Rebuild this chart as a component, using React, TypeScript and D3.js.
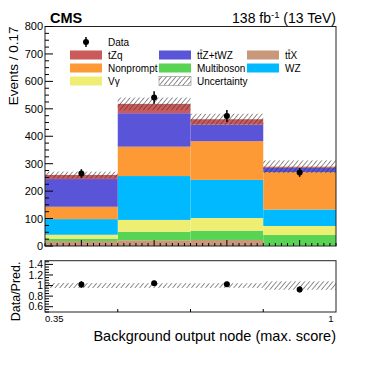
// App.tsx
import * as d3 from 'd3';
import React, { useRef, useEffect } from 'react';

// bin edges of the background output node
const edges = [0.35, 0.5125, 0.675, 0.8375, 1];

// stacked predictions, bottom to top
const ttX = [18, 21, 22, 1];
const multiboson = [9, 31, 34, 39];
const vgamma = [14, 43, 46, 33];
const wz = [57, 160, 139, 60];
const nonprompt = [45, 107, 141, 136];
const ttZ = [101, 122, 60, 16];
const tZq = [15, 34, 20, 4];

const dataVals = [264, 541, 474, 268];
const dataErr = [16, 23, 22, 16];
const uncert = [12, 23, 20, 23];

const yTicks = [0, 100, 200, 300, 400, 500, 600, 700, 800];
const ratioTicks = [0.6, 0.8, 1, 1.2, 1.4];

const procs = [
  { key: 'ttX', label: 'ttX', vals: ttX, color: '#c9977a' },
  { key: 'multiboson', label: 'Multiboson', vals: multiboson, color: '#58d354' },
  { key: 'vgamma', label: 'Vγ', vals: vgamma, color: '#eeee72' },
  { key: 'wz', label: 'WZ', vals: wz, color: '#00b9ff' },
  { key: 'nonprompt', label: 'Nonprompt', vals: nonprompt, color: '#fd9a36' },
  { key: 'ttZ', label: 'ttZ+tWZ', vals: ttZ, color: '#5a54d8' },
  { key: 'tZq', label: 'tZq', vals: tZq, color: '#cb5a5a' },
];

const FONT = '"Liberation Sans", Arial, Helvetica, sans-serif';

function App() {
  const ref = useRef(null);

  useEffect(() => {
    const svg = d3.select(ref.current);
    svg.selectAll('*').remove();

    const left = 45, right = 336;
    const x = d3.scaleLinear().domain([0.35, 1]).range([left, right]);
    const y = d3.scaleLinear().domain([0, 800]).range([246, 26.5]);
    const r = d3.scaleLinear().domain([0.5, 1.47]).range([312, 260.7]);

    const defs = svg.append('defs');
    const pat = defs.append('pattern')
      .attr('id', 'hatch')
      .attr('patternUnits', 'userSpaceOnUse')
      .attr('width', 3.6).attr('height', 3.6)
      .attr('patternTransform', 'rotate(40)');
    pat.append('line')
      .attr('x1', 0).attr('y1', 0).attr('x2', 0).attr('y2', 3.6)
      .attr('stroke', '#333').attr('stroke-width', 1.1);

    const bins = d3.range(dataVals.length).map(i => {
      const row: any = { i, lo: edges[i], hi: edges[i + 1] };
      procs.forEach(p => { row[p.key] = p.vals[i]; });
      return row;
    });
    const totals = bins.map(b => d3.sum(procs, p => b[p.key]));

    // stacked histogram
    const stack = d3.stack().keys(procs.map(p => p.key))(bins);
    svg.append('g')
      .selectAll('g')
      .data(stack)
      .enter().append('g')
      .attr('fill', (d, k) => procs[k].color)
      .selectAll('rect')
      .data(d => d)
      .enter().append('rect')
      .attr('x', d => x(d.data.lo))
      .attr('width', d => x(d.data.hi) - x(d.data.lo))
      .attr('y', d => y(d[1]))
      .attr('height', d => y(d[0]) - y(d[1]));

    // uncertainty band
    svg.append('g').selectAll('rect')
      .data(bins)
      .enter().append('rect')
      .attr('x', d => x(d.lo))
      .attr('width', d => x(d.hi) - x(d.lo))
      .attr('y', d => y(totals[d.i] + uncert[d.i]))
      .attr('height', d => y(totals[d.i] - uncert[d.i]) - y(totals[d.i] + uncert[d.i]))
      .attr('fill', 'url(#hatch)');

    // data points
    const pts = svg.append('g');
    bins.forEach(b => {
      const cx = x((b.lo + b.hi) / 2);
      pts.append('line')
        .attr('x1', cx).attr('x2', cx)
        .attr('y1', y(dataVals[b.i] - dataErr[b.i]))
        .attr('y2', y(dataVals[b.i] + dataErr[b.i]))
        .attr('stroke', '#000').attr('stroke-width', 1.5);
      pts.append('circle').attr('cx', cx).attr('cy', y(dataVals[b.i])).attr('r', 3).attr('fill', '#000');
    });

    // main frame
    svg.append('rect')
      .attr('x', left).attr('y', y(800))
      .attr('width', right - left).attr('height', y(0) - y(800))
      .attr('fill', 'none').attr('stroke', '#222').attr('stroke-width', 1);

    const axes = svg.append('g').attr('stroke', '#000').attr('stroke-width', 1);
    d3.range(0, 801, 25).forEach(v => {
      const len = v % 100 === 0 ? 8 : 4;
      axes.append('line').attr('x1', left).attr('x2', left + len).attr('y1', y(v)).attr('y2', y(v));
    });
    const bw = (edges[1] - edges[0]) / 12;
    d3.range(0, 49).forEach(k => {
      const v = 0.35 + k * bw;
      const len = k % 12 === 6 ? 6 : 3;
      axes.append('line').attr('x1', x(v)).attr('x2', x(v)).attr('y1', y(0)).attr('y2', y(0) - len);
    });

    svg.append('g').selectAll('text')
      .data(yTicks)
      .enter().append('text')
      .attr('x', 43).attr('y', d => y(d)).attr('dy', '0.36em')
      .attr('text-anchor', 'end')
      .style('font', `11px ${FONT}`)
      .text(d => d);

    // ratio panel
    svg.append('g').selectAll('rect')
      .data(bins)
      .enter().append('rect')
      .attr('x', d => x(d.lo))
      .attr('width', d => x(d.hi) - x(d.lo))
      .attr('y', d => r(1 + uncert[d.i] / totals[d.i]))
      .attr('height', d => r(1 - uncert[d.i] / totals[d.i]) - r(1 + uncert[d.i] / totals[d.i]))
      .attr('fill', 'url(#hatch)');

    bins.forEach(b => {
      const cx = x((b.lo + b.hi) / 2);
      const ratio = dataVals[b.i] / totals[b.i];
      const e = dataErr[b.i] / totals[b.i];
      svg.append('line')
        .attr('x1', cx).attr('x2', cx).attr('y1', r(ratio - e)).attr('y2', r(ratio + e))
        .attr('stroke', '#000').attr('stroke-width', 1.5);
      svg.append('circle').attr('cx', cx).attr('cy', r(ratio)).attr('r', 3).attr('fill', '#000');
    });

    svg.append('rect')
      .attr('x', left).attr('y', r(1.47))
      .attr('width', right - left).attr('height', r(0.5) - r(1.47))
      .attr('fill', 'none').attr('stroke', '#222').attr('stroke-width', 1);

    const rax = svg.append('g').attr('stroke', '#000').attr('stroke-width', 1);
    d3.range(0.5, 1.46, 0.05).forEach(v => {
      const major = ratioTicks.some(t => Math.abs(t - v) < 1e-6);
      rax.append('line').attr('x1', left).attr('x2', left + (major ? 8 : 4)).attr('y1', r(v)).attr('y2', r(v));
    });
    edges.slice(1, -1).forEach(v => {
      rax.append('line').attr('x1', x(v)).attr('x2', x(v)).attr('y1', r(0.5)).attr('y2', r(0.5) - 3);
    });

    svg.append('g').selectAll('text')
      .data(ratioTicks)
      .enter().append('text')
      .attr('x', 43).attr('y', d => r(d)).attr('dy', '0.36em')
      .attr('text-anchor', 'end')
      .style('font', `10.5px ${FONT}`)
      .text(d => d);

    svg.append('text').attr('x', x(0.35)).attr('y', 322)
      .style('font', `9.5px ${FONT}`).text('0.35');
    svg.append('text').attr('x', x(1) - 5).attr('y', 322).attr('text-anchor', 'middle')
      .style('font', `9.5px ${FONT}`).text('1');

    // axis titles
    svg.append('text')
      .attr('transform', `translate(18,${y(800)}) rotate(-90)`)
      .attr('text-anchor', 'end')
      .style('font', `13.5px ${FONT}`)
      .text('Events / 0.17');
    svg.append('text')
      .attr('transform', `translate(19.5,261.5) rotate(-90)`)
      .attr('text-anchor', 'end')
      .style('font', `12.5px ${FONT}`)
      .text('Data/Pred.');
    svg.append('text')
      .attr('x', right).attr('y', 341)
      .attr('text-anchor', 'end')
      .style('font', `14.5px ${FONT}`)
      .text('Background output node (max. score)');

    // header
    svg.append('text').attr('x', 50).attr('y', 23)
      .style('font', `bold 14.5px ${FONT}`).text('CMS');
    const lumi = svg.append('text').attr('x', right).attr('y', 23)
      .attr('text-anchor', 'end').style('font', `14px ${FONT}`);
    lumi.append('tspan').text('138 fb');
    lumi.append('tspan').attr('dy', -5).style('font-size', '9.5px').text('-1');
    lumi.append('tspan').attr('dy', 5).text(' (13 TeV)');

    // legend
    const leg = svg.append('g').style('font', `10px ${FONT}`);
    leg.append('line').attr('x1', 86).attr('x2', 86).attr('y1', 37).attr('y2', 47)
      .attr('stroke', '#000').attr('stroke-width', 1.5);
    leg.append('circle').attr('cx', 86).attr('cy', 42).attr('r', 3).attr('fill', '#000');
    leg.append('text').attr('x', 108).attr('y', 45.5).text('Data');

    const entries = [
      { label: 'tZq', col: 0, row: 0 },
      { label: 'ttZ+tWZ', col: 1, row: 0 },
      { label: 'ttX', col: 2, row: 0 },
      { label: 'Nonprompt', col: 0, row: 1 },
      { label: 'Multiboson', col: 1, row: 1 },
      { label: 'WZ', col: 2, row: 1 },
      { label: 'Vγ', col: 0, row: 2 },
      { label: 'Uncertainty', col: 1, row: 2 },
    ];
    const colX = [70, 159, 247];
    entries.forEach(e => {
      const sx = colX[e.col];
      const cy = 55 + e.row * 13;
      const p = procs.find(q => q.label === e.label);
      if (p) {
        leg.append('rect').attr('x', sx).attr('y', cy - 4.5).attr('width', 32).attr('height', 9)
          .attr('fill', p.color);
      } else {
        leg.append('rect').attr('x', sx).attr('y', cy - 4.5).attr('width', 32).attr('height', 9)
          .attr('fill', 'url(#hatch)').attr('stroke', '#888').attr('stroke-width', 0.6);
      }
      const tx = sx + 38;
      leg.append('text').attr('x', tx).attr('y', cy + 3.5).text(e.label);
      if (e.label.startsWith('tt')) {
        // bar over the second t
        leg.append('line').attr('x1', tx + 2.9).attr('x2', tx + 5.4)
          .attr('y1', cy - 5).attr('y2', cy - 5)
          .attr('stroke', '#000').attr('stroke-width', 0.7);
      }
    });
  }, []);

  return (
    <svg ref={ref} width={374} height={367}
      style={{ position: 'absolute', left: 0, top: 0, background: '#fff' }} />
  );
}

export default App;
